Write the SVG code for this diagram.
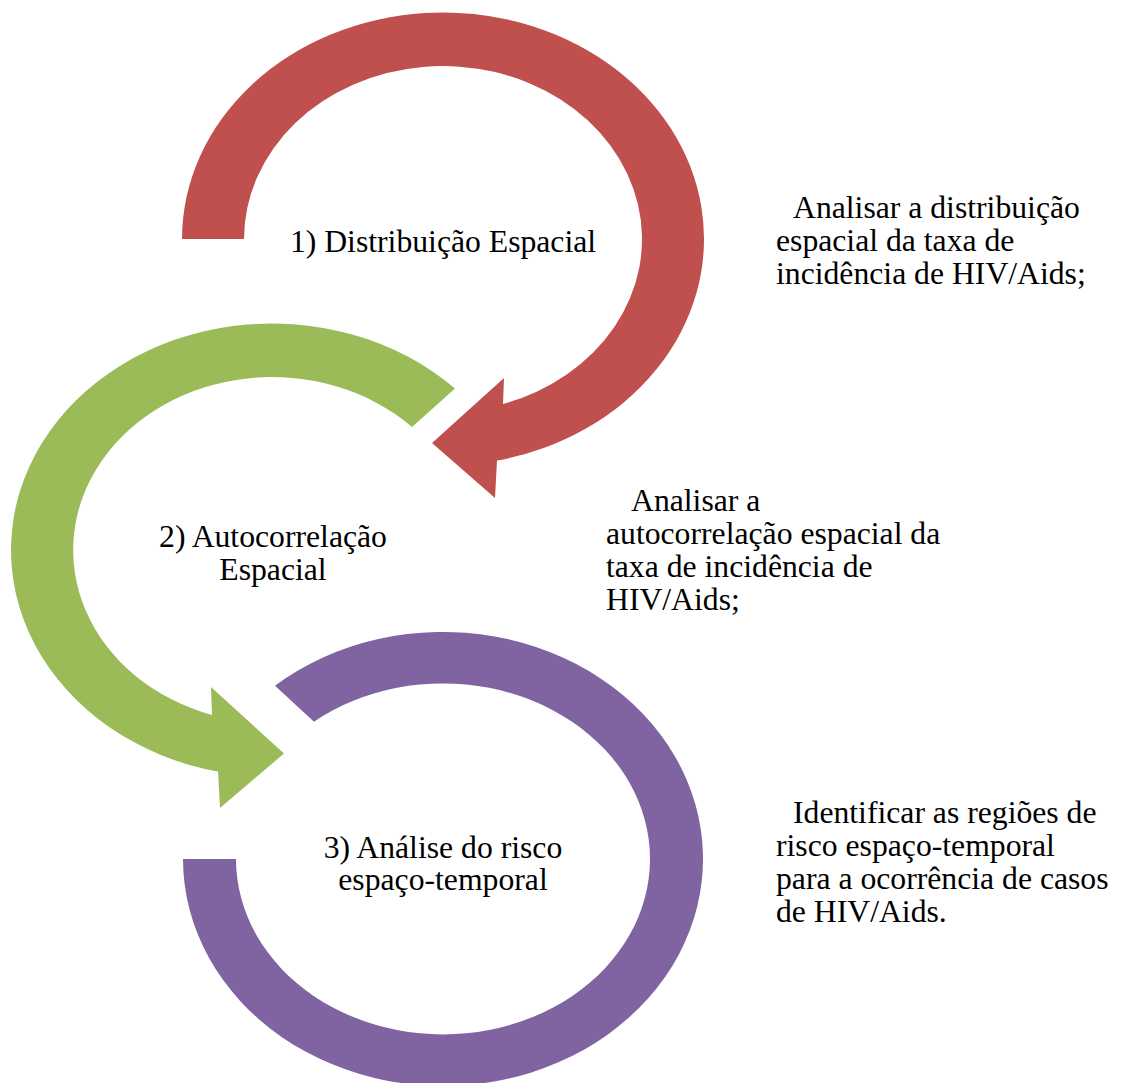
<svg xmlns="http://www.w3.org/2000/svg" width="1129" height="1083" viewBox="0 0 1129 1083">
<style>
text{font-family:"Liberation Serif","Times New Roman",serif;font-size:31.7px;fill:#000}
.c{text-anchor:middle}
.red{fill:#C0504D}
.green{fill:#9BBB59}
.purple{fill:#8064A2}
</style>
<rect width="1129" height="1083" fill="#fff"/>
<g id="connectors">
<path id="arrow-green" class="green" d="M455 388.5 A261 226.5 0 1 0 218 771.6 L220 808 L284 753.5 L211 687 L212 715 A199 173 0 1 1 412 427 Z"/>
<path id="arrow-red" class="red" d="M182 239 A261 226.5 0 1 1 497 460.6 L495 498 L432 443 L504 378 L503 404 A199 173 0 1 0 244 239 Z"/>
<path id="arrow-purple" class="purple" d="M183 859 A260 227 0 1 0 275 685.7 L314 721.7 A207 175.5 0 1 1 236 859 Z"/>
</g>
<g id="node1">
<text class="c" x="443" y="252">1) Distribuição Espacial</text>
</g>
<g id="node2">
<text class="c" x="273" y="547">2) Autocorrelação</text>
<text class="c" x="273" y="580">Espacial</text>
</g>
<g id="node3">
<text class="c" x="443" y="858">3) Análise do risco</text>
<text class="c" x="443" y="890">espaço-temporal</text>
</g>
<g id="desc1">
<text x="793" y="218">Analisar a distribuição</text>
<text x="776" y="251">espacial da taxa de</text>
<text x="776" y="284">incidência de HIV/Aids;</text>
</g>
<g id="desc2">
<text x="631" y="511">Analisar a</text>
<text x="606" y="544">autocorrelação espacial da</text>
<text x="606" y="577">taxa de incidência de</text>
<text x="606" y="610">HIV/Aids;</text>
</g>
<g id="desc3">
<text x="793" y="823">Identificar as regiões de</text>
<text x="776" y="856">risco espaço-temporal</text>
<text x="776" y="889">para a ocorrência de casos</text>
<text x="776" y="922">de HIV/Aids.</text>
</g>
</svg>
